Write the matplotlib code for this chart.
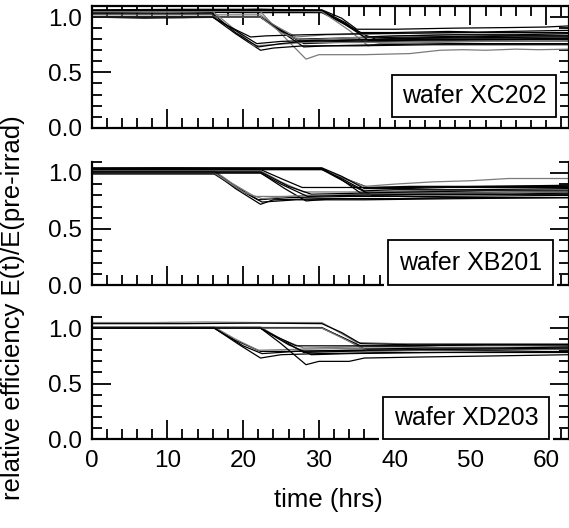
import matplotlib
matplotlib.use("Agg")
import matplotlib.pyplot as plt
from matplotlib.ticker import MultipleLocator
from matplotlib.patches import Rectangle

plt.rcParams['font.family'] = ['Liberation Sans', 'DejaVu Sans']

# curves: (time in hrs, relative efficiency)
xc202 = [
    [(0, 1.05), (6, 1.055), (12, 1.05), (18, 1.06), (25, 1.055), (30.4, 1.05), (33, 0.96), (36, 0.84), (37.5, 0.80), (42, 0.81), (46, 0.815), (50, 0.82), (56, 0.83), (63, 0.83)],
    [(0, 1.06), (9, 1.065), (15, 1.06), (22, 1.07), (30.4, 1.06), (33.5, 0.95), (36.5, 0.79), (40, 0.79), (44, 0.80), (48, 0.80), (55, 0.80), (63, 0.81)],
    [(0, 1.04), (10, 1.045), (20, 1.04), (30.4, 1.04), (33, 0.95), (35.5, 0.86), (40, 0.86), (47, 0.87), (51, 0.865), (55, 0.87), (63, 0.88)],
    [(0, 1.05), (14, 1.05), (24, 1.055), (30.4, 1.05), (34, 0.88), (36.5, 0.74), (38, 0.76), (45, 0.77), (52, 0.78), (63, 0.78)],
    [(0, 1.065), (12, 1.07), (22, 1.07), (30.4, 1.065), (33, 0.99), (35, 0.89), (40, 0.89), (44, 0.895), (48, 0.90), (55, 0.905), (60, 0.91), (63, 0.92)],
    [(0, 1.0), (8, 1.0), (16, 1.0), (22.3, 1.0), (25, 0.88), (28, 0.76), (32, 0.77), (40, 0.78), (50, 0.79), (63, 0.79)],
    [(0, 1.0), (12, 0.995), (22.3, 1.0), (24.5, 0.91), (27, 0.80), (33, 0.81), (43, 0.82), (53, 0.83), (63, 0.83)],
    [(0, 1.05), (10, 1.055), (22.3, 1.05), (25, 0.85), (28.3, 0.62), (30, 0.66), (36, 0.66), (42, 0.67), (46, 0.70), (49, 0.705), (52, 0.70), (56, 0.71), (59, 0.705), (63, 0.71)],
    [(0, 1.0), (15, 1.0), (22.3, 1.0), (25, 0.87), (28, 0.73), (31, 0.74), (38, 0.75), (47, 0.76), (63, 0.76)],
    [(0, 1.02), (11, 1.02), (22.3, 1.02), (24, 0.93), (27, 0.82), (31, 0.84), (40, 0.85), (50, 0.86), (63, 0.86)],
    [(0, 1.0), (22.3, 1.0), (25.5, 0.85), (28, 0.77), (33, 0.78), (42, 0.79), (52, 0.80), (63, 0.80)],
    [(0, 1.0), (7, 0.99), (16, 1.0), (19, 0.85), (22.3, 0.70), (24, 0.72), (28, 0.74), (35, 0.74), (45, 0.75), (63, 0.75)],
    [(0, 1.05), (9, 1.045), (16, 1.05), (18.5, 0.91), (21.5, 0.74), (24, 0.75), (28, 0.77), (36, 0.77), (46, 0.78), (63, 0.79)],
    [(0, 1.0), (16, 1.0), (18, 0.92), (21, 0.82), (23, 0.83), (28, 0.84), (36, 0.85), (48, 0.86), (63, 0.86)],
    [(0, 1.03), (16, 1.03), (19, 0.86), (22, 0.73), (25, 0.76), (28, 0.78), (34, 0.79), (44, 0.81), (63, 0.82)],
    [(0, 1.0), (22.3, 1.0), (25, 0.86), (27.5, 0.79), (30, 0.80), (36, 0.82), (46, 0.84), (63, 0.85)],
    [(0, 1.06), (30.4, 1.06), (33.5, 0.93), (36, 0.82), (40, 0.83), (48, 0.84), (56, 0.84), (63, 0.85)],
    [(0, 1.0), (16, 1.0), (18.5, 0.90), (21.8, 0.76), (25, 0.78), (30, 0.79), (40, 0.80), (63, 0.80)],
]
xc202_gray = [3, 7, 9, 12, 15]

xb201 = [
    [(0, 1.0), (8, 1.0), (16.2, 1.0), (19, 0.86), (22.3, 0.72), (24, 0.76), (30, 0.77), (40, 0.77), (50, 0.78), (63, 0.78)],
    [(0, 1.01), (16.2, 1.01), (19, 0.88), (22, 0.76), (26, 0.78), (34, 0.79), (44, 0.79), (63, 0.80)],
    [(0, 1.02), (16.2, 1.02), (18.5, 0.91), (21.5, 0.79), (25, 0.79), (33, 0.80), (45, 0.80), (63, 0.81)],
    [(0, 0.99), (16.2, 0.99), (19.5, 0.85), (22.5, 0.74), (27, 0.76), (36, 0.76), (48, 0.77), (63, 0.78)],
    [(0, 1.03), (22.3, 1.03), (25, 0.95), (27.8, 0.87), (32, 0.87), (42, 0.87), (52, 0.88), (63, 0.88)],
    [(0, 1.0), (22.3, 1.0), (25.5, 0.86), (28.3, 0.75), (32, 0.77), (40, 0.77), (48, 0.78), (63, 0.78)],
    [(0, 1.02), (22.3, 1.02), (25, 0.92), (28, 0.83), (34, 0.83), (44, 0.84), (63, 0.85)],
    [(0, 1.01), (22.3, 1.01), (26, 0.88), (29, 0.81), (36, 0.82), (46, 0.82), (63, 0.83)],
    [(0, 1.04), (10, 1.045), (20, 1.04), (30.4, 1.04), (33, 0.95), (36, 0.84), (40, 0.85), (50, 0.85), (63, 0.86)],
    [(0, 1.03), (30.4, 1.03), (33, 0.96), (36.5, 0.87), (42, 0.88), (52, 0.88), (63, 0.89)],
    [(0, 1.035), (30.4, 1.035), (33.5, 0.95), (36, 0.88), (40, 0.90), (45, 0.92), (50, 0.93), (55, 0.95), (63, 0.95)],
    [(0, 1.04), (30.4, 1.04), (33, 0.94), (35.5, 0.82), (42, 0.83), (52, 0.84), (63, 0.84)],
    [(0, 1.03), (30.4, 1.03), (34, 0.90), (37, 0.80), (44, 0.81), (55, 0.81), (63, 0.82)],
    [(0, 1.0), (16.2, 1.0), (20, 0.83), (22.5, 0.77), (28, 0.80), (38, 0.81), (50, 0.82), (63, 0.83)],
    [(0, 1.045), (30.4, 1.045), (33, 0.97), (36, 0.86), (41, 0.86), (47, 0.87), (55, 0.87), (63, 0.87)],
    [(0, 1.0), (22.3, 1.0), (25, 0.90), (28.5, 0.79), (34, 0.80), (44, 0.81), (63, 0.81)],
]
xb201_gray = [2, 6, 10, 13]

xd203 = [
    [(0, 1.05), (8, 1.05), (15, 1.055), (22, 1.05), (30.4, 1.05), (33, 0.95), (35, 0.87), (40, 0.86), (50, 0.86), (63, 0.86)],
    [(0, 1.04), (12, 1.04), (22, 1.045), (30.4, 1.04), (33, 0.96), (35.5, 0.86), (42, 0.85), (52, 0.85), (63, 0.85)],
    [(0, 1.0), (16.2, 1.0), (19, 0.89), (22.3, 0.79), (26, 0.79), (34, 0.80), (44, 0.80), (63, 0.81)],
    [(0, 1.0), (16.2, 1.0), (19.5, 0.85), (22.3, 0.73), (25, 0.76), (30, 0.77), (40, 0.78), (63, 0.78)],
    [(0, 1.01), (16.2, 1.01), (19, 0.90), (22, 0.80), (28, 0.81), (38, 0.82), (50, 0.82), (63, 0.83)],
    [(0, 1.0), (22.3, 1.0), (25, 0.86), (28.3, 0.67), (30, 0.70), (34, 0.70), (36, 0.73), (44, 0.74), (54, 0.75), (63, 0.76)],
    [(0, 1.0), (22.3, 1.0), (25.5, 0.88), (28, 0.78), (33, 0.79), (42, 0.80), (52, 0.80), (63, 0.81)],
    [(0, 1.01), (22.3, 1.01), (25, 0.90), (28, 0.82), (35, 0.83), (46, 0.84), (63, 0.84)],
    [(0, 1.0), (22.3, 1.0), (26, 0.85), (29, 0.76), (34, 0.77), (45, 0.78), (63, 0.79)],
    [(0, 1.0), (30.4, 1.0), (33, 0.92), (35.5, 0.84), (42, 0.84), (52, 0.85), (63, 0.85)],
    [(0, 1.005), (30.4, 1.005), (33.5, 0.90), (36, 0.81), (44, 0.82), (54, 0.82), (63, 0.83)],
    [(0, 1.0), (30.4, 1.0), (34, 0.88), (36.5, 0.79), (44, 0.80), (56, 0.81), (63, 0.81)],
    [(0, 1.0), (16.2, 1.0), (20, 0.84), (22.5, 0.77), (27, 0.79), (35, 0.80), (50, 0.81), (63, 0.82)],
    [(0, 1.0), (22.3, 1.0), (24.5, 0.92), (27, 0.84), (32, 0.84), (42, 0.84), (52, 0.85), (63, 0.85)],
]
xd203_gray = [0, 4, 7, 11]

panel_names = ['wafer XC202', 'wafer XB201', 'wafer XD203']
x_ticks = [0, 10, 20, 30, 40, 50, 60]
y_ticks = [0.0, 0.5, 1.0]


W, H = 569, 528
fig = plt.figure(figsize=(W / 100, H / 100), dpi=100)

left = 91.5 / W
width = 1.0 - left
# (top px, bottom px) of each panel
rows = [(6, 127.7), (161.7, 285), (317, 439)]
# label boxes: x0, x1, y0, y1 (data units)
boxes = [(39.6, 61.3, 0.097, 0.48), (39.1, 60.9, 0.0, 0.40), (38.4, 60.4, 0.0, 0.375)]

panels = [(xc202, xc202_gray), (xb201, xb201_gray), (xd203, xd203_gray)]

for i, (curves, grays) in enumerate(panels):
    top_px, bot_px = rows[i]
    ax = fig.add_axes([left, 1 - bot_px / H, width, (bot_px - top_px) / H])
    for k, c in enumerate(curves):
        t = [p[0] for p in c]
        v = [p[1] for p in c]
        col = '#7a7a7a' if k in grays else 'black'
        ax.plot(t, v, color=col, lw=0.9)
    ax.set_xlim(0, 63)
    ax.set_ylim(0, 1.1)
    ax.xaxis.set_major_locator(MultipleLocator(10))
    ax.xaxis.set_minor_locator(MultipleLocator(2))
    ax.set_yticks(y_ticks)
    ax.yaxis.set_minor_locator(MultipleLocator(0.1))
    ax.set_yticklabels(['%.1f' % y for y in y_ticks])
    ax.tick_params(which='both', direction='in', right=True, top=(i == 0),
                   width=1.3, labelsize=17.5)
    ax.tick_params(which='major', length=14)
    ax.tick_params(which='minor', length=7)
    ax.tick_params(axis='x', pad=8)
    ax.tick_params(axis='y', pad=7)
    for s in ax.spines.values():
        s.set_linewidth(1.6)
    if i > 0:
        ax.spines['top'].set_visible(False)
    if i < 2:
        ax.set_xticklabels([])
    else:
        ax.set_xticks(x_ticks)
        ax.set_xticklabels([str(x) for x in x_ticks])

    x0, x1, y0, y1 = boxes[i]
    halo = Rectangle((x0 - 0.5, y0 - 0.03), x1 - x0 + 1.0, y1 - y0 + 0.06,
                     facecolor='white', edgecolor='none', clip_on=False, zorder=5)
    ax.add_patch(halo)
    frame = Rectangle((x0, y0), x1 - x0, y1 - y0, facecolor='white',
                      edgecolor='black', lw=1.3, clip_on=False, zorder=6)
    ax.add_patch(frame)
    ax.text((x0 + x1) / 2, (y0 + y1) / 2, panel_names[i], ha='center', va='center',
            fontsize=18, zorder=7)

fig.text(13 / W, 1 - 308 / H, 'relative efficiency E(t)/E(pre-irrad)', rotation=90,
         ha='center', va='center', fontsize=18.5)
fig.text(328 / W, 1 - 500 / H, 'time (hrs)', ha='center', va='center', fontsize=18.5)

fig.savefig('out.png', dpi=100)
